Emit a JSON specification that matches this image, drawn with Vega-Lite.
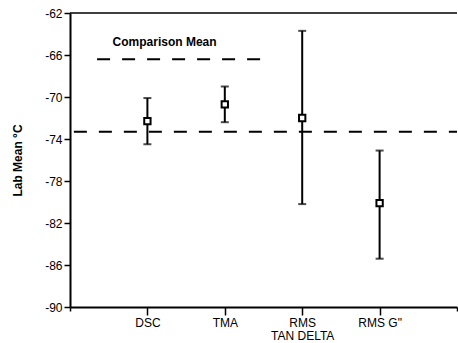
{
  "$schema": "https://vega.github.io/schema/vega-lite/v6.json",
  "width": 387,
  "height": 294,
  "autosize": {"type": "none"},
  "padding": {"left": 70, "top": 13, "right": 1, "bottom": 36},
  "background": "white",
  "config": {
    "view": {"stroke": null},
    "font": "Liberation Sans",
    "axis": {"domainColor": "black", "tickColor": "black", "labelColor": "black", "titleColor": "black", "grid": false, "labelFont": "Liberation Sans", "titleFont": "Liberation Sans"}
  },
  "datasets": {
    "methods": [
      {"method": "DSC", "x": 2, "mean": -72.3, "lo": -74.5, "hi": -70.1},
      {"method": "TMA", "x": 4, "mean": -70.7, "lo": -72.4, "hi": -69.0},
      {"method": "RMS TAN DELTA", "x": 6, "mean": -72.0, "lo": -80.2, "hi": -63.7},
      {"method": "RMS G\"", "x": 8, "mean": -80.1, "lo": -85.4, "hi": -75.1}
    ],
    "lines": [
      {"kind": "comparison", "x": 0.1, "x2": 10, "y": -73.3},
      {"kind": "legend", "x": 0.7, "x2": 4.95, "y": -66.4}
    ],
    "label": [{"text": "Comparison Mean", "x": 1.1, "y": -64.8}],
    "frame": [{"x": 0, "x2": 10, "y": -62}]
  },
  "layer": [
    {
      "data": {"name": "methods"},
      "mark": {"type": "rule", "strokeWidth": 2, "color": "black"},
      "encoding": {
        "x": {
          "field": "x", "type": "quantitative",
          "scale": {"domain": [0, 10], "nice": false, "zero": false},
          "axis": {
            "title": null,
            "values": [0, 1, 2, 3, 4, 5, 6, 7, 8, 9, 10],
            "labelExpr": "datum.value == 2 ? 'DSC' : datum.value == 4 ? 'TMA' : datum.value == 6 ? ['RMS', 'TAN DELTA'] : datum.value == 8 ? 'RMS G\"' : ''",
            "domainWidth": 2,
            "tickWidth": 1.5,
            "tickSize": {"condition": {"test": "datum.value % 2 == 0 && datum.value > 0 && datum.value < 10", "value": 8}, "value": 4},
            "labelFontSize": 12,
            "labelPadding": 2,
            "labelLineHeight": 13,
            "labelFlush": false,
            "labelOverlap": false
          }
        },
        "y": {
          "field": "lo", "type": "quantitative",
          "scale": {"domain": [-90, -62], "nice": false, "zero": false},
          "axis": {
            "title": "Lab Mean °C",
            "titleFontWeight": "bold",
            "titleFontSize": 12,
            "titlePadding": 20,
            "values": [-90, -88, -86, -84, -82, -80, -78, -76, -74, -72, -70, -68, -66, -64, -62],
            "labelExpr": "(datum.value + 90) % 4 == 0 ? toString(datum.value) : ''",
            "tickSize": {"condition": {"test": "(datum.value + 90) % 4 == 0", "value": 6}, "value": 3},
            "domainWidth": 2,
            "tickWidth": 1.5,
            "labelFontSize": 12,
            "labelPadding": 2,
            "labelFlush": false,
            "labelOverlap": false
          }
        },
        "y2": {"field": "hi"}
      }
    },
    {
      "data": {"name": "methods"},
      "mark": {"type": "tick", "orient": "horizontal", "size": 8, "thickness": 2, "color": "black"},
      "encoding": {
        "x": {"field": "x", "type": "quantitative"},
        "y": {"field": "lo", "type": "quantitative"}
      }
    },
    {
      "data": {"name": "methods"},
      "mark": {"type": "tick", "orient": "horizontal", "size": 8, "thickness": 2, "color": "black"},
      "encoding": {
        "x": {"field": "x", "type": "quantitative"},
        "y": {"field": "hi", "type": "quantitative"}
      }
    },
    {
      "data": {"name": "methods"},
      "mark": {"type": "point", "shape": "square", "size": 40, "filled": true, "fill": "white", "stroke": "black", "strokeWidth": 2, "opacity": 1},
      "encoding": {
        "x": {"field": "x", "type": "quantitative"},
        "y": {"field": "mean", "type": "quantitative"}
      }
    },
    {
      "data": {"name": "lines"},
      "mark": {"type": "rule", "strokeWidth": 2, "color": "black", "strokeDash": [13, 12]},
      "encoding": {
        "x": {"field": "x", "type": "quantitative"},
        "x2": {"field": "x2"},
        "y": {"field": "y", "type": "quantitative"}
      }
    },
    {
      "data": {"name": "label"},
      "mark": {"type": "text", "align": "left", "baseline": "middle", "font": "Liberation Sans", "fontWeight": "bold", "fontSize": 12, "color": "black"},
      "encoding": {
        "x": {"field": "x", "type": "quantitative"},
        "y": {"field": "y", "type": "quantitative"},
        "text": {"field": "text"}
      }
    },
    {
      "data": {"name": "frame"},
      "mark": {"type": "rule", "strokeWidth": 1.5, "color": "black"},
      "encoding": {
        "x": {"field": "x", "type": "quantitative"},
        "x2": {"field": "x2"},
        "y": {"field": "y", "type": "quantitative"}
      }
    }
  ]
}
